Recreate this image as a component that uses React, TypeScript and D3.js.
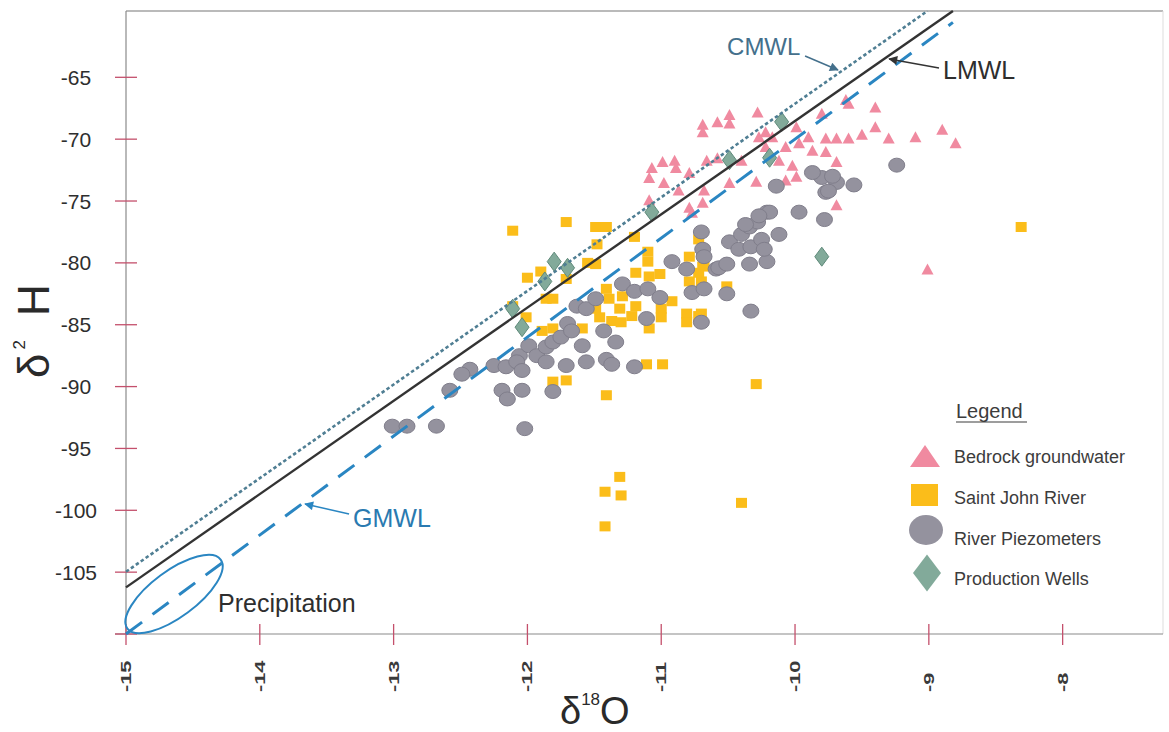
import React from 'react';
import * as d3 from 'd3';

const W = 1169;
const H = 732;

// [δ18O, δ2H] pairs
const bedrock: [number, number][] = [
  [-10.28, -67.8], [-10.49, -68.0], [-10.58, -68.6], [-10.49, -68.7], [-10.69, -68.8], [-10.69, -69.4],
  [-9.4, -67.4], [-9.6, -67.1], [-9.4, -69.0], [-9.3, -69.9], [-9.1, -69.8], [-8.9, -69.2], [-8.8, -70.3],
  [-9.5, -69.6], [-9.6, -69.9], [-9.69, -69.9], [-9.77, -69.9], [-9.9, -69.8], [-9.99, -69.0], [-9.97, -70.3],
  [-9.87, -70.9], [-9.77, -71.0], [-10.07, -70.6], [-10.17, -69.8], [-10.27, -69.8], [-10.22, -70.6],
  [-10.12, -71.7], [-10.02, -72.1], [-9.69, -71.8], [-9.99, -73.0], [-10.07, -73.3], [-10.29, -73.4],
  [-9.69, -75.3], [-11.07, -72.3], [-10.99, -71.8], [-10.9, -71.7], [-10.89, -72.3], [-11.09, -73.1],
  [-10.98, -73.5], [-10.79, -72.7], [-10.66, -71.7], [-10.58, -71.5], [-11.09, -74.9], [-10.79, -75.5],
  [-10.87, -74.1], [-10.68, -74.1], [-10.4, -71.7], [-10.22, -69.4], [-9.8, -67.9], [-10.49, -73.5],
  [-10.69, -75.1], [-10.77, -75.9], [-9.62, -66.8], [-9.01, -80.5],
];

const saintJohn: [number, number][] = [
  [-12.11, -77.4], [-11.71, -76.7], [-11.49, -77.1], [-11.41, -77.1], [-11.48, -78.5], [-11.2, -77.9],
  [-12.0, -81.2], [-11.9, -80.7], [-11.86, -82.9], [-11.81, -82.9], [-12.01, -84.4], [-12.11, -83.5],
  [-11.71, -81.3], [-11.49, -80.1], [-11.55, -80.0], [-11.1, -79.1], [-11.1, -79.9], [-11.19, -80.8],
  [-11.01, -80.9], [-11.41, -82.1], [-11.39, -82.9], [-11.29, -82.7], [-11.49, -83.7], [-11.31, -83.7],
  [-11.19, -83.5], [-11.46, -84.4], [-11.37, -84.7], [-11.3, -84.8], [-11.22, -84.3], [-11.09, -85.3],
  [-11.0, -83.7], [-11.0, -84.4], [-10.92, -83.1], [-10.81, -84.1], [-10.7, -84.1], [-10.81, -84.8],
  [-11.59, -85.3], [-11.81, -85.3], [-11.89, -85.5], [-10.79, -79.5], [-10.72, -78.1], [-10.69, -80.3],
  [-10.79, -81.5], [-10.7, -81.5], [-11.11, -88.2], [-10.99, -88.2], [-11.81, -89.6], [-11.71, -89.5],
  [-11.41, -90.7], [-10.29, -89.8], [-11.31, -97.3], [-11.42, -98.5], [-11.3, -98.8], [-11.42, -101.3],
  [-10.4, -99.4], [-8.31, -77.1], [-10.68, -80.0], [-10.72, -80.8], [-10.51, -81.9], [-11.09, -81.1],
  [-10.72, -84.3],
];

const piezometers: [number, number][] = [
  [-13.01, -93.2], [-12.9, -93.2], [-12.68, -93.2], [-12.58, -90.3], [-12.43, -88.6], [-12.49, -89.0],
  [-12.25, -88.3], [-12.16, -88.4], [-12.06, -87.5], [-12.08, -88.0], [-12.04, -88.7], [-11.99, -86.7],
  [-11.93, -87.5], [-11.86, -86.8], [-11.81, -86.4], [-11.75, -86.0], [-11.7, -84.9], [-11.67, -85.5],
  [-11.86, -88.0], [-11.71, -88.3], [-11.59, -86.7], [-11.56, -88.0], [-12.19, -90.3], [-12.15, -91.0],
  [-12.04, -90.3], [-11.81, -90.4], [-12.02, -93.4], [-11.63, -83.5], [-11.56, -83.7], [-11.49, -82.9],
  [-11.43, -85.5], [-11.34, -86.4], [-11.41, -87.8], [-11.37, -88.2], [-11.2, -88.4], [-11.29, -81.7],
  [-11.2, -82.3], [-11.1, -82.1], [-11.01, -82.8], [-11.11, -84.5], [-10.92, -79.9], [-10.81, -80.5],
  [-10.77, -82.4], [-10.68, -82.1], [-10.7, -77.5], [-10.69, -78.9], [-10.68, -79.5], [-10.59, -80.5],
  [-10.7, -84.8], [-10.57, -80.4], [-10.51, -80.1], [-10.51, -82.5], [-10.49, -78.3], [-10.4, -77.7],
  [-10.34, -77.1], [-10.28, -76.7], [-10.21, -75.9], [-10.42, -78.9], [-10.33, -78.7], [-10.25, -78.1],
  [-10.34, -80.1], [-10.21, -79.9], [-10.23, -78.9], [-10.12, -77.7], [-9.97, -75.9], [-9.78, -76.5],
  [-10.33, -83.9], [-10.14, -73.8], [-9.77, -74.3], [-9.69, -73.5], [-9.24, -72.1], [-9.56, -73.7],
  [-9.8, -73.1], [-9.72, -73.0], [-9.75, -74.2], [-9.87, -72.7], [-10.19, -75.9], [-10.27, -76.2],
  [-10.37, -76.9],
];

const productionWells: [number, number][] = [
  [-12.11, -83.7], [-12.04, -85.2], [-11.8, -79.9], [-11.87, -81.5], [-11.7, -80.4],
  [-11.07, -75.9], [-10.1, -68.6], [-10.49, -71.7], [-10.19, -71.5], [-9.8, -79.5],
];

const xTicks = [-15, -14, -13, -12, -11, -10, -9, -8];
const yTicks = [-65, -70, -75, -80, -85, -90, -95, -100, -105];

// meteoric water lines, end points as [δ18O, δ2H]
const cmwl: [number, number][] = [[-15, -104.97], [-9.01, -59.64]];
const lmwl: [number, number][] = [[-15, -106.23], [-8.82, -59.64]];
const gmwl: [number, number][] = [[-15, -110], [-8.82, -60.56]];

// label anchors and arrow ends, in data units
const cmwlLabel: [number, number] = [-10.508, -63.2];
const cmwlArrow: [number, number][] = [[-9.925, -63.28], [-9.679, -64.41]];
const lmwlLabel: [number, number] = [-8.894, -65.14];
const lmwlArrow: [number, number][] = [[-8.924, -64.25], [-9.297, -63.52]];
const gmwlLabel: [number, number] = [-13.303, -101.35];
const gmwlArrow: [number, number][] = [[-13.333, -100.3], [-13.662, -99.49]];
const precipLabel: [number, number] = [-14.312, -108.22];
const precipCenter: [number, number] = [-14.641, -106.77];

const legendNames = ['Bedrock groundwater', 'Saint John River', 'River Piezometers', 'Production Wells'];

const FONT = "'Liberation Sans', Arial, sans-serif";
const TEXT = '#2e2e2e';
const TICK_RED = '#c4506c';
const AXIS_GRAY = '#8a8a8a';
const PINK = '#f08aa0';
const YELLOW = '#fbbd1a';
const GREY = '#94929e';
const GREEN = '#82aa9a';
const BLUE = '#2a86c2';
const SLATE = '#44708c';

const triPath = (w: number, h: number) => `M0,${-h / 2}L${w / 2},${h / 2}L${-w / 2},${h / 2}Z`;
const diaPath = (w: number, h: number) => `M0,${-h / 2}L${w / 2},0L0,${h / 2}L${-w / 2},0Z`;

export default function App() {
  const x = d3.scaleLinear().domain([-15, -7.25]).range([126, 1163]);
  const y = d3.scaleLinear().domain([-110, -59.64]).range([634, 11]);
  const line = d3.line<[number, number]>().x(d => x(d[0])).y(d => y(d[1]));

  const [x0, x1] = x.range();
  const [yb, yt] = y.range();
  // tilt of the GMWL on screen, used for the precipitation envelope
  const slopeAngle = (Math.atan2(y(-60) - y(-110), x(-8.75) - x(-15)) * 180) / Math.PI;
  const pcx = x(precipCenter[0]);
  const pcy = y(precipCenter[1]);

  return (
    <svg
      width={W}
      height={H}
      style={{ position: 'absolute', left: 0, top: 0, background: '#fff' }}
      fontFamily={FONT}
    >
      <defs>
        <marker id="arSlate" viewBox="0 0 10 10" refX="9" refY="5" markerWidth="11" markerHeight="9" orient="auto" markerUnits="userSpaceOnUse">
          <path d="M0,0L10,5L0,10Z" fill={SLATE} />
        </marker>
        <marker id="arDark" viewBox="0 0 10 10" refX="9" refY="5" markerWidth="11" markerHeight="9" orient="auto" markerUnits="userSpaceOnUse">
          <path d="M0,0L10,5L0,10Z" fill="#333" />
        </marker>
        <marker id="arBlue" viewBox="0 0 10 10" refX="9" refY="5" markerWidth="11" markerHeight="9" orient="auto" markerUnits="userSpaceOnUse">
          <path d="M0,0L10,5L0,10Z" fill={BLUE} />
        </marker>
      </defs>

      {/* frame */}
      <line x1={x0} x2={x1} y1={yt} y2={yt} stroke="#777" strokeWidth={1.2} />
      <line x1={x1} x2={x1} y1={yt} y2={yb} stroke="#ddd" strokeWidth={1} />
      <line x1={x0} x2={x0} y1={yt} y2={yb} stroke={AXIS_GRAY} strokeWidth={1.2} />
      <line x1={x0 - 11} x2={x1} y1={yb} y2={yb} stroke={AXIS_GRAY} strokeWidth={1.2} />

      {/* y ticks */}
      {[...yTicks, -110].map(v => (
        <line key={'yt' + v} x1={x0 - 11} x2={x0 + 11} y1={y(v)} y2={y(v)} stroke={TICK_RED} strokeWidth={1.3} />
      ))}
      {yTicks.map(v => (
        <text key={'yl' + v} x={76} y={y(v) + 7.5} textAnchor="middle" fontSize={21} fill={TEXT}>
          {v}
        </text>
      ))}

      {/* x ticks */}
      {xTicks.map(v => (
        <line key={'xt' + v} x1={x(v)} x2={x(v)} y1={yb - 10} y2={yb + 11} stroke={TICK_RED} strokeWidth={1.3} />
      ))}
      {xTicks.map(v => (
        <text
          key={'xl' + v}
          transform={`translate(${x(v) + 5},692) rotate(-90) scale(1.5,1)`}
          fontSize={14.5}
          fontWeight="bold"
          fill="#3a3a3a"
        >
          {v}
        </text>
      ))}

      {/* axis titles */}
      <text transform="translate(49,378) rotate(-90)" fontSize={44} fill="#2a2a2a">
        δ
        <tspan fontSize={17} dx={4} dy={-24}>2</tspan>
        <tspan dx={24} dy={24}>H</tspan>
      </text>
      <text x={560} y={724} fontSize={38} fill="#2a2a2a">
        δ
        <tspan fontSize={17} dy={-19}>18</tspan>
        <tspan dy={19}>O</tspan>
      </text>

      {/* data */}
      <g>
        {bedrock.map((d, i) => (
          <path key={'b' + i} d={triPath(12, 11)} transform={`translate(${x(d[0])},${y(d[1])})`} fill={PINK} />
        ))}
        {saintJohn.map((d, i) => (
          <rect key={'s' + i} x={x(d[0]) - 5.5} y={y(d[1]) - 5} width={11} height={10} fill={YELLOW} />
        ))}
        {piezometers.map((d, i) => (
          <ellipse key={'p' + i} cx={x(d[0])} cy={y(d[1])} rx={8} ry={7} fill={GREY} stroke="#807e8b" strokeWidth={1} />
        ))}
        {productionWells.map((d, i) => (
          <path
            key={'w' + i}
            d={diaPath(14, 19)}
            transform={`translate(${x(d[0])},${y(d[1])})`}
            fill={GREEN}
            stroke="#5f8a7a"
            strokeWidth={1}
          />
        ))}
      </g>

      {/* water lines */}
      <path d={line(cmwl) || ''} fill="none" stroke="#4f7e93" strokeWidth={2.6} strokeDasharray="3.5 2.5" />
      <path d={line(lmwl) || ''} fill="none" stroke="#333" strokeWidth={2.4} />
      <path d={line(gmwl) || ''} fill="none" stroke={BLUE} strokeWidth={3} strokeDasharray="20 13" />

      {/* precipitation envelope */}
      <ellipse
        cx={pcx}
        cy={pcy}
        rx={58}
        ry={23}
        transform={`rotate(${slopeAngle},${pcx},${pcy})`}
        fill="none"
        stroke={BLUE}
        strokeWidth={2}
      />
      <text x={x(precipLabel[0])} y={y(precipLabel[1])} fontSize={25} fill={TEXT}>Precipitation</text>

      {/* line labels */}
      <text x={x(cmwlLabel[0])} y={y(cmwlLabel[1])} fontSize={24} fill={SLATE}>CMWL</text>
      <path d={line(cmwlArrow) || ''} stroke={SLATE} strokeWidth={1.5} markerEnd="url(#arSlate)" />
      <text x={x(lmwlLabel[0])} y={y(lmwlLabel[1])} fontSize={25} fill={TEXT}>LMWL</text>
      <path d={line(lmwlArrow) || ''} stroke="#333" strokeWidth={1.5} markerEnd="url(#arDark)" />
      <text x={x(gmwlLabel[0])} y={y(gmwlLabel[1])} fontSize={25} fill="#2a7ab0">GMWL</text>
      <path d={line(gmwlArrow) || ''} stroke={BLUE} strokeWidth={1.5} markerEnd="url(#arBlue)" />

      {/* legend */}
      <g>
        <text x={956} y={418} fontSize={20} fill="#3c3c3c">Legend</text>
        <line x1={956} x2={1027} y1={422} y2={422} stroke="#3c3c3c" strokeWidth={1.2} />
        <path d={triPath(30, 22)} transform="translate(925,456)" fill={PINK} />
        <rect x={911} y={484} width={27} height={22} fill={YELLOW} />
        <ellipse cx={926} cy={530} rx={17} ry={15} fill={GREY} />
        <path d={diaPath(28, 37)} transform="translate(927,573)" fill={GREEN} />
        {legendNames.map((n, i) => (
          <text key={n} x={954} y={[463, 504, 545, 585][i]} fontSize={18} fill="#3c3c3c">
            {n}
          </text>
        ))}
      </g>
    </svg>
  );
}
